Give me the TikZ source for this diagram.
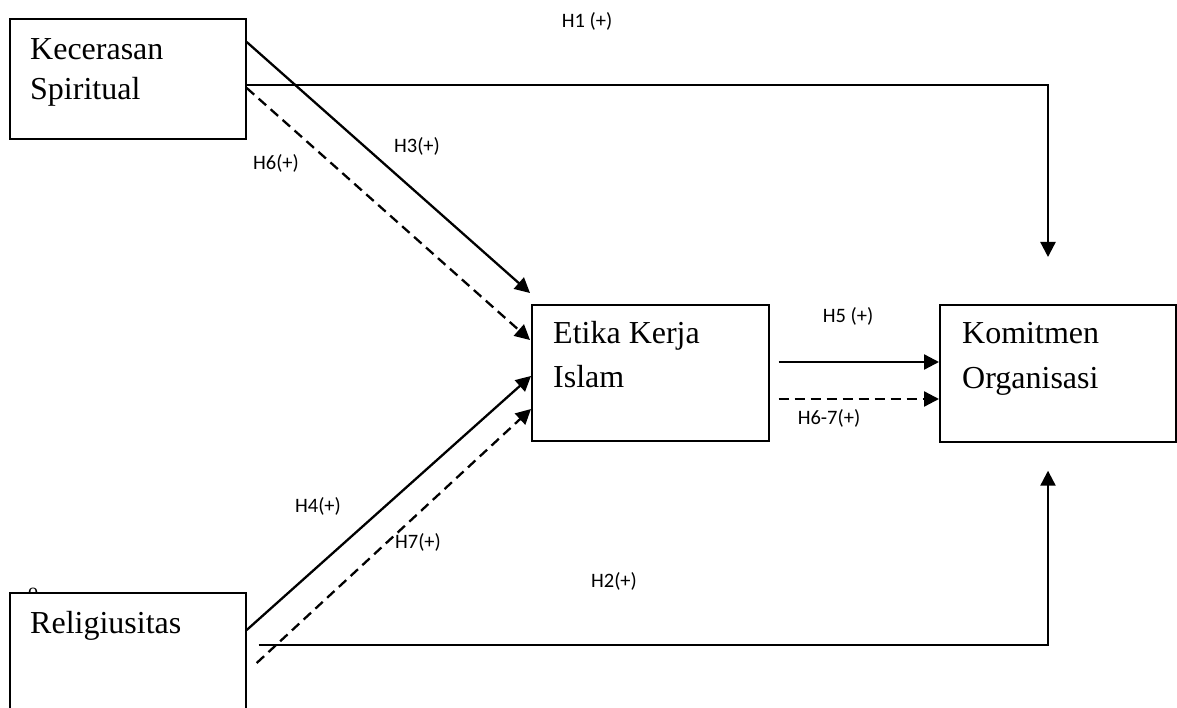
\documentclass[tikz,border=0pt]{standalone}
\usepackage{fontspec}
\setmainfont{Liberation Serif}
\newfontfamily\hypfont{Carlito}
\usetikzlibrary{arrows.meta, positioning, calc}

\tikzset{
  varbox/.style={draw, line width=1.7pt, fill=white, anchor=north west, inner sep=0pt},
  vartext/.style={anchor=base west, inner sep=0pt, font=\fontsize{32}{40}\selectfont},
  hyp/.style={anchor=base, inner sep=0pt, font=\hypfont\fontsize{20.5}{24}\selectfont},
  link/.style={line width=2.3pt, -{Triangle[length=15pt,width=15pt]}},
  dlink/.style={link, dash pattern=on 10pt off 6pt},
}

\begin{document}
\begin{tikzpicture}[x=1pt, y=-1pt]
\useasboundingbox (0,0) rectangle (1177,708);

% stray mark above the lower box
\node[anchor=base, inner sep=0pt, font=\fontsize{20}{24}\selectfont] (stray) at (33,597) {o};

% variables
\node[varbox, minimum width=236pt, minimum height=120pt] (ks) at (9,18) {};
\node[varbox, minimum width=236pt, minimum height=122pt] (rg) at (9,592) {};
\node[varbox, minimum width=237pt, minimum height=136pt] (eki) at (531,304) {};
\node[varbox, minimum width=236pt, minimum height=137pt] (ko) at (939,304) {};

\node[vartext] (ks1) at (30,60) {Kecerasan};
\node[vartext] (ks2) at (30,100) {Spiritual};
\node[vartext] (rg1) at (30,633) {Religiusitas};
\node[vartext] (eki1) at (553,343) {Etika Kerja};
\node[vartext] (eki2) at (553,387) {Islam};
\node[vartext] (ko1) at (962,344) {Komitmen};
\node[vartext] (ko2) at (962,388) {Organisasi};

% direct paths
\draw[link] ($(ks.north east)+(0,67)$) -| ($(ko.north west)+(109,-47)$);
\draw[link] ($(rg.north east)+(12,53)$) -| ($(ko.south west)+(109,28)$);

% paths into etika kerja islam
\draw[link] ($(ks.north east)+(0,24)$) -- ($(eki.north west)+(-1,-11)$);
\draw[dlink] ($(ks.north east)+(0,70)$) -- ($(eki.north west)+(-1,36)$);
\draw[link] ($(rg.north east)+(0,38)$) -- ($(eki.north west)+(0,72)$);
\draw[dlink] ($(rg.north east)+(10,71)$) -- ($(eki.north west)+(0,105)$);

% paths into komitmen organisasi
\draw[link] ($(eki.north east)+(9,58)$) -- ($(ko.north west)+(0,58)$);
\draw[dlink] ($(eki.north east)+(9,95)$) -- ($(ko.north west)+(0,95)$);

% hypothesis labels
\node[hyp] (h1) at (587,28) {H1 (+)};
\node[hyp] (h3) at (417,153) {H3(+)};
\node[hyp] (h6) at (276,170) {H6(+)};
\node[hyp] (h5) at (848,323) {H5 (+)};
\node[hyp] (h67) at (829,424) {H6-7(+)};
\node[hyp] (h4) at (318,512) {H4(+)};
\node[hyp] (h7) at (418,548) {H7(+)};
\node[hyp] (h2) at (614,587) {H2(+)};
\end{tikzpicture}
\end{document}
